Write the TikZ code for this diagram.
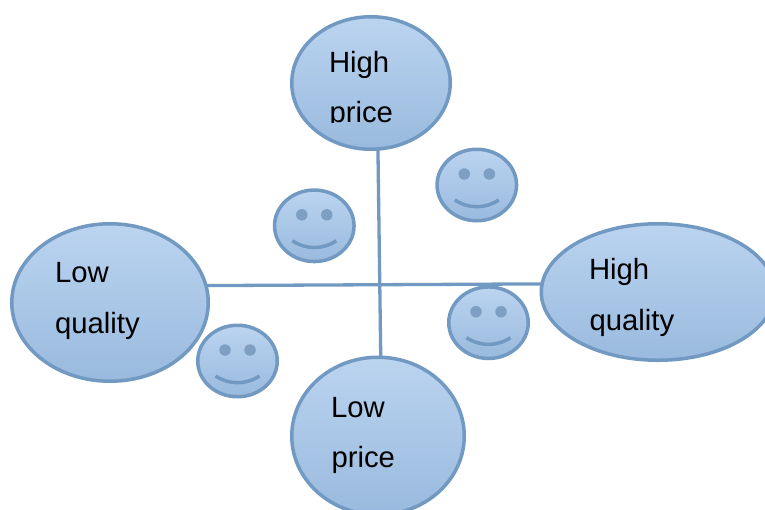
\documentclass[tikz,border=0pt]{standalone}
\usepackage{fontspec}
\setmainfont{Liberation Sans}
\usetikzlibrary{shapes.geometric,calc}
\definecolor{edgeblue}{HTML}{7299C1}
\definecolor{eyeblue}{HTML}{7E9EC2}
\definecolor{topblue}{HTML}{BBD4F0}
\definecolor{botblue}{HTML}{99BADE}
\tikzset{
  blob/.style={ellipse,draw=edgeblue,line width=3.5pt,top color=topblue,bottom color=botblue,inner sep=0pt,outer sep=0pt},
  face/.style={blob,minimum width=79.5pt,minimum height=71.5pt},
  eye/.style={circle,fill=eyeblue,inner sep=0pt,outer sep=0pt,minimum size=11.5pt},
  mouth/.style={draw=edgeblue,line width=3.5pt},
  axis/.style={draw=edgeblue,line width=3.3pt},
  lab/.style={anchor=base west,inner sep=0pt,outer sep=0pt,font=\fontsize{29.3}{29.3}\selectfont,text=black}
}
\newcommand{\smileyface}[3]{%
  \node[face] (#1) at (#2,#3) {};
  \node[eye] (#1l) at ($(#2,#3)+(-12.5,-11)$) {};
  \node[eye] (#1r) at ($(#2,#3)+(12.5,-11)$) {};
  \draw[mouth] ($(#2,#3)+(-22,15)$) .. controls ($(#2,#3)+(-8,24)$) and ($(#2,#3)+(8,24)$) .. ($(#2,#3)+(22,15)$);
}
\begin{document}
\begin{tikzpicture}[x=1pt,y=-1pt]
\useasboundingbox (0,0) rectangle (765,509);
\clip (0,0) rectangle (765,509);
\node[blob,minimum width=158.5pt,minimum height=132.5pt] (hp) at (371,83) {};
\node[blob,minimum width=196.5pt,minimum height=157.5pt] (lq) at (110,302.5) {};
\node[blob,minimum width=233.5pt,minimum height=136.5pt] (hq) at (658,292) {};
\node[blob,minimum width=172.5pt,minimum height=157.5pt] (lp) at (378,436) {};
\draw[axis] (hp.-84) -- (lp.88);
\draw[axis] (lq.10.4) -- (hq.176);
\smileyface{sa}{314.3}{225.8}
\smileyface{sb}{476.8}{185}
\smileyface{sc}{488.5}{322.7}
\smileyface{sd}{237.5}{361}
\node[lab] (hpa) at (329,72) {High};
\begin{scope}
\clip (320,90) rectangle (400,122.5);
\node[lab] (hpb) at (329.5,122) {price};
\end{scope}
\node[lab] (lqa) at (55,282) {Low};
\node[lab] (lqb) at (55,333) {quality};
\node[lab] (hqa) at (589,279) {High};
\node[lab] (hqb) at (589.5,330) {quality};
\node[lab] (lpa) at (331,417) {Low};
\node[lab] (lpb) at (331.5,467) {price};
\end{tikzpicture}
\end{document}
